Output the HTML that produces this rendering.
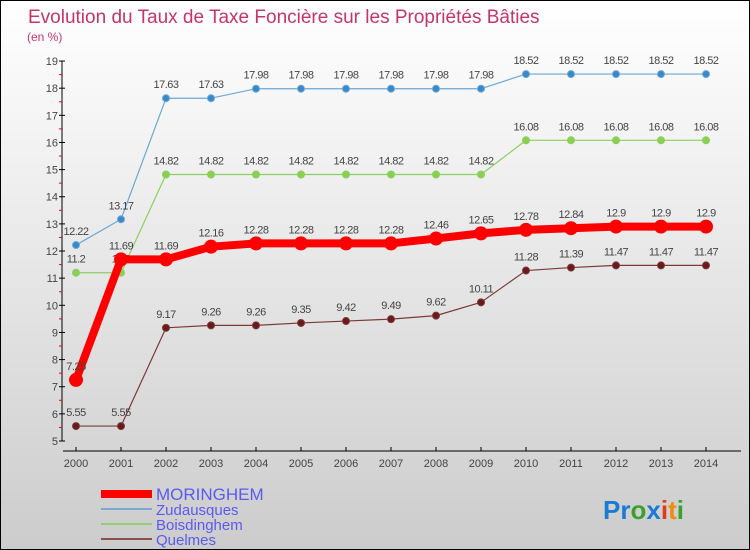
<!DOCTYPE html>
<html><head><meta charset="utf-8"><style>
body{margin:0}
#c{width:748px;height:548px;border:1px solid #000;background:linear-gradient(#fff,#f3f3f3 25%,#ccc);position:relative;overflow:hidden;font-family:"Liberation Sans",sans-serif}
svg{position:absolute;left:0;top:0}
</style></head><body>
<div id="c">
<svg id="s" width="750" height="550">
<text x="27" y="22" font-size="19" fill="#c4356a">Evolution du Taux de Taxe Foncière sur les Propriétés Bâties</text>
<text x="26" y="40" font-size="12" fill="#c4356a">(en %)</text>
<text x="602" y="518" font-size="26" font-weight="bold"><tspan fill="#1a7ad4">Pr</tspan><tspan fill="#3aa030">o</tspan><tspan fill="#1a7ad4">x</tspan><tspan fill="#e03a1a">i</tspan><tspan fill="#f08a10">t</tspan><tspan fill="#3aa030">i</tspan></text>
</svg>
</div>
<script>
const years=[2000,2001,2002,2003,2004,2005,2006,2007,2008,2009,2010,2011,2012,2013,2014];
const moringhem=[7.25,11.69,11.69,12.16,12.28,12.28,12.28,12.28,12.46,12.65,12.78,12.84,12.9,12.9,12.9];
const zudausques=[12.22,13.17,17.63,17.63,17.98,17.98,17.98,17.98,17.98,17.98,18.52,18.52,18.52,18.52,18.52];
const boisdinghem=[11.2,11.2,14.82,14.82,14.82,14.82,14.82,14.82,14.82,14.82,16.08,16.08,16.08,16.08,16.08];
const quelmes=[5.55,5.55,9.17,9.26,9.26,9.35,9.42,9.49,9.62,10.11,11.28,11.39,11.47,11.47,11.47];
const yTicks=[5,6,7,8,9,10,11,12,13,14,15,16,17,18,19];
const NS="http://www.w3.org/2000/svg",s=document.getElementById('s');
const X=i=>75+i*45, Y=v=>440-(v-5)*27.14;
function mk(t,a,p){const e=document.createElementNS(NS,t);for(const k in a)e.setAttribute(k,a[k]);(p||s).appendChild(e);return e;}
const ax=mk('g',{});


mk('line',{x1:61,y1:Y(19),x2:61,y2:Y(5),stroke:'#000'},ax);
mk('line',{x1:62,y1:450,x2:740,y2:450,stroke:'#000'},ax);
yTicks.forEach(v=>{
 mk('line',{x1:58,x2:64,y1:Y(v),y2:Y(v),stroke:'#000'},ax);
 if(v<19)mk('line',{x1:58,x2:61,y1:Y(v+0.5),y2:Y(v+0.5),stroke:'#f00'},ax);
 const t=mk('text',{x:57,y:Y(v)+4,'font-size':11,fill:'#444','text-anchor':'end'},ax);t.textContent=v;
 
 
});
years.forEach((y,i)=>{
 mk('line',{x1:X(i),x2:X(i),y1:446,y2:450,stroke:'#000'},ax);
 const t=mk('text',{x:X(i),y:466,'font-size':11,fill:'#444','text-anchor':'middle'},ax);t.textContent=y;
 
 
});
function series(d,col,lw,r,dot,name){
 const g=mk('g',{});
 
 
 mk('polyline',{points:d.map((v,i)=>X(i)+','+Y(v)).join(' '),fill:'none',stroke:col,'stroke-width':lw,'stroke-linejoin':'round'},g);
 d.forEach((v,i)=>{
  const c=mk('circle',{cx:X(i),cy:Y(v),r:r,fill:dot,stroke:col},g);
  
  
  const t=mk('text',{x:X(i),y:Y(v)-10,'font-size':11,fill:'#444','text-anchor':'middle','letter-spacing':'-0.5'},g);t.textContent=v;
  
  
 });
}
series(quelmes,'#7a3a3a',1.2,3.5,'#6a1a1a','quelmes');
series(boisdinghem,'#8ad060',1.2,3.5,'#8ad050','boisdinghem');
series(zudausques,'#6aa8d8',1.2,3.5,'#3a88c8','zudausques');
series(moringhem,'#f00',8,6.5,'#f00','moringhem');
const leg=[['MORINGHEM','#f00',8],['Zudausques','#7aaad0',2],['Boisdinghem','#90d070',2],['Quelmes','#8a5050',2]];
leg.forEach((l,i)=>{
 const g=mk('g',{});
 
 
 const y=493+i*15;
 mk('line',{x1:100,x2:151,y1:y,y2:y,stroke:l[1],'stroke-width':l[2]},g);
 const t=mk('text',{x:155,y:y+6,'font-size':i?15:17,fill:'#5a5af0'},g);t.textContent=l[0];
});
</script>
</body></html>
